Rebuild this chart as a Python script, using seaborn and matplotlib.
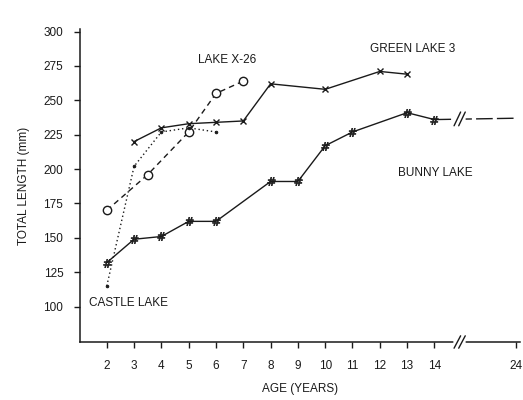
import numpy as np
import pandas as pd
import matplotlib
matplotlib.use("Agg")
import matplotlib.pyplot as plt
import seaborn as sns

# ages in years (axis is broken between 14 and 24)
bunny_age = [2, 3, 4, 5, 6, 8, 9, 10, 11, 13, 14]
bunny_len = [132, 149, 151, 162, 162, 191, 191, 217, 227, 241, 236]
bunny_tail_age = [14, 24]
bunny_tail_len = [236, 237]

green_age = [3, 4, 5, 6, 7, 8, 10, 12, 13]
green_len = [220, 230, 233, 234, 235, 262, 258, 271, 269]

x26_age = [2, 3.5, 5, 6, 7]
x26_len = [170, 196, 227, 255, 264]

castle_age = [2, 3, 4, 5, 6]
castle_len = [115, 202, 227, 230, 227]

xtick_ages = [2, 3, 4, 5, 6, 7, 8, 9, 10, 11, 12, 13, 14, 24]
yticks = [100, 125, 150, 175, 200, 225, 250, 275, 300]


def pos(ages):
    # 24 years is drawn just past the axis break
    return [a if a <= 14 else 17 for a in ages]


sns.set_style("ticks")
plt.rcParams['font.family'] = ['Liberation Sans', 'DejaVu Sans']

fig = plt.figure(figsize=(5.23, 4.0), dpi=100)
ax = fig.add_axes([0.153, 0.145, 0.841, 0.783])

ink = '#1a1a1a'
sns.lineplot(x=pos(bunny_age), y=bunny_len, ax=ax, color=ink, lw=1.0,
             marker='$\\#$', markersize=6, markeredgewidth=0.5,
             markeredgecolor=ink, markerfacecolor=ink)
sns.lineplot(x=pos(bunny_tail_age), y=bunny_tail_len, ax=ax, color=ink, lw=1.0,
             linestyle=(0, (12, 3)))
sns.lineplot(x=pos(green_age), y=green_len, ax=ax, color=ink, lw=1.0,
             marker='x', markersize=4, markeredgewidth=1.0, markeredgecolor=ink)
sns.lineplot(x=pos(x26_age), y=x26_len, ax=ax, color=ink, lw=1.0,
             linestyle=(0, (4, 3)), marker='o', markersize=6,
             markerfacecolor='white', markeredgecolor=ink, markeredgewidth=1.0)
sns.lineplot(x=pos(castle_age), y=castle_len, ax=ax, color=ink, lw=1.0,
             linestyle=(0, (1, 2)), marker='o', markersize=1.8,
             markerfacecolor=ink, markeredgecolor=ink)

ax.set_xlim(1.02, 17.13)
ax.set_ylim(74.3, 302)
ax.set_xticks(pos(xtick_ages))
ax.set_xticklabels([str(a) for a in xtick_ages])
ax.set_yticks(yticks)
ax.set_yticklabels([str(v) for v in yticks])
sns.despine(ax=ax)
for s in ['left', 'bottom']:
    ax.spines[s].set_linewidth(1.1)
    ax.spines[s].set_color(ink)
ax.tick_params(axis='both', labelsize=8.5, colors=ink, length=4, width=1.0)
ax.tick_params(axis='x', pad=9)
ax.tick_params(axis='y', pad=8)

ax.set_xlabel('AGE (YEARS)', fontsize=8.5, color=ink, labelpad=8)
ax.set_ylabel('TOTAL LENGTH (mm)', fontsize=8.5, color=ink, labelpad=10)

# axis break marks
for yb, dy in [(74.3, 4.5), (236.5, 5)]:
    ax.plot([14.8, 15.05], [yb, yb], color='white', lw=4, zorder=10,
            clip_on=False)
    for dx in [0.0, 0.17]:
        ax.plot([14.72 + dx, 14.96 + dx], [yb - dy, yb + dy], color=ink,
                lw=1.0, zorder=11, clip_on=False)

txt = dict(fontsize=8.5, color=ink, ha='left', va='center')
ax.text(5.33, 279.5, 'LAKE X-26', **txt)
ax.text(11.63, 287.5, 'GREEN LAKE 3', **txt)
ax.text(12.66, 197, 'BUNNY LAKE', **txt)
ax.text(1.34, 102.5, 'CASTLE LAKE', **txt)

fig.savefig('out.png', dpi=100)
